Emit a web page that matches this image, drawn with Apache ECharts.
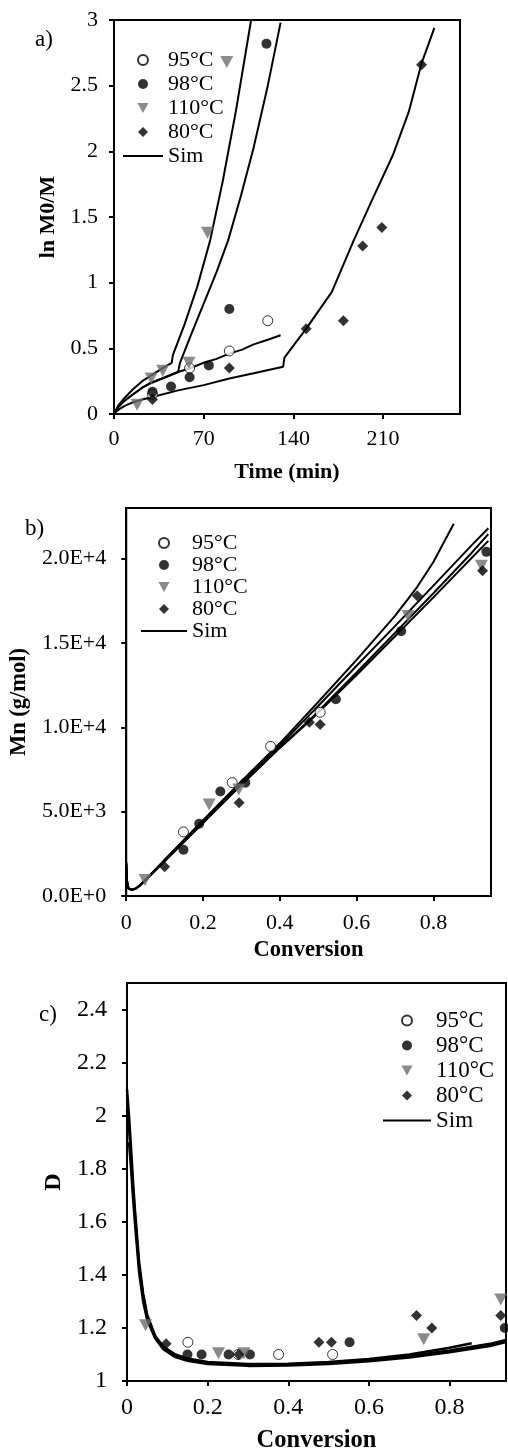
<!DOCTYPE html>
<html><head><meta charset="utf-8">
<script src="https://cdn.jsdelivr.net/npm/echarts@6/dist/echarts.min.js"></script>
<style>html,body{margin:0;padding:0;background:#fff}#c{width:508px;height:1454px}</style>
</head><body><div id="c"></div>
<script>
const FONT = "'Liberation Serif','Times New Roman',serif";
const NAMES = ['95°C','98°C','110°C','80°C','Sim'];

// ---------- panel a: ln M0/M vs time ----------
const aTicksX = [0,70,140,210];
const aTicksY = [0,0.5,1,1.5,2,2.5,3];
const a95  = [[30,0.15],[59,0.35],[90,0.48],[120,0.71]];
const a98  = [[30,0.17],[44.5,0.21],[59,0.28],[74,0.37],[90,0.80],[119,2.82]];
const a110 = [[18,0.07],[29,0.27],[38,0.33],[58.5,0.39],[73,1.38],[88,2.68]];
const a80  = [[30,0.11],[90,0.35],[150,0.65],[179,0.71],[194,1.28],[209,1.42],[240,2.66]];
const aSim110 = [[0,0],[3,0.06],[8,0.12],[15,0.19],[22,0.25],[30,0.30],[38,0.35],[45,0.39],[46,0.45],[55,0.68],[65,0.97],[75,1.32],[85,1.78],[95,2.30],[107,3.0]];
const aSim98  = [[0,0],[3,0.05],[8,0.1],[15,0.15],[22,0.2],[30,0.24],[40,0.28],[50,0.32],[51.5,0.39],[60,0.6],[70,0.84],[80,1.08],[89,1.32],[99,1.66],[109,2.03],[120,2.5],[130,2.98]];
const aSim95  = [[0,0],[3,0.05],[8,0.1],[15,0.15],[22,0.2],[28,0.235],[40,0.28],[50,0.32],[60,0.35],[70,0.39],[80,0.42],[90,0.46],[100,0.49],[109,0.53],[120,0.565],[130,0.60]];
const aSim80  = [[0,0],[3,0.03],[8,0.06],[15,0.09],[22,0.11],[30,0.13],[50,0.18],[70,0.22],[90,0.27],[109,0.31],[132,0.36],[133,0.43],[150,0.65],[170,0.93],[187,1.32],[200,1.6],[218,1.98],[230,2.3],[240,2.67],[250,2.94]];

// ---------- panel b: Mn vs conversion ----------
const bTicksX = [0,0.2,0.4,0.6,0.8];
const bTicksY = [0,5000,10000,15000,20000];
const b95  = [[0.149,3800],[0.276,6720],[0.376,8870],[0.505,10890]];
const b98  = [[0.149,2740],[0.19,4280],[0.245,6190],[0.31,6720],[0.546,11660],[0.716,15700],[0.938,20400]];
const b110 = [[0.049,950],[0.216,5420],[0.293,6310],[0.734,16600],[0.925,19580]];
const b80  = [[0.10,1730],[0.294,5530],[0.477,10300],[0.505,10170],[0.758,17800],[0.928,19280]];
const bSimA = [[0,2000],[0.002,900],[0.006,450],[0.015,380],[0.025,450],[0.035,620],[0.05,950],[0.1,2150],[0.2,4500],[0.3,6800],[0.4,9050],[0.458,10470],[0.5,11500],[0.6,14000],[0.7,16600],[0.758,18330],[0.8,19800],[0.853,22070]];
const bSimB = [[0,2000],[0.002,900],[0.006,450],[0.015,380],[0.025,450],[0.035,620],[0.05,950],[0.1,2100],[0.2,4400],[0.3,6650],[0.4,8920],[0.466,10470],[0.5,11260],[0.6,13650],[0.7,16000],[0.8,18400],[0.9,20800],[0.943,21800]];
const bSimC = [[0,1900],[0.002,850],[0.006,430],[0.015,370],[0.025,440],[0.035,610],[0.05,940],[0.1,2080],[0.2,4350],[0.3,6600],[0.4,8800],[0.479,10470],[0.6,13250],[0.7,15600],[0.8,17950],[0.9,20350],[0.943,21450]];
const bSimD = [[0,1800],[0.002,800],[0.006,420],[0.015,360],[0.025,430],[0.035,600],[0.05,930],[0.1,2060],[0.2,4330],[0.3,6600],[0.4,8780],[0.479,10400],[0.6,13100],[0.7,15400],[0.8,17700],[0.9,20050],[0.943,21050]];

// ---------- panel c: D vs conversion ----------
const cTicksX = [0,0.2,0.4,0.6,0.8];
const cTicksY = [1,1.2,1.4,1.6,1.8,2,2.2,2.4];
const c95  = [[0.151,1.146],[0.276,1.10],[0.376,1.10],[0.51,1.10]];
const c98  = [[0.15,1.10],[0.185,1.10],[0.252,1.10],[0.305,1.10],[0.552,1.146],[0.937,1.20]];
const c110 = [[0.046,1.21],[0.227,1.105],[0.29,1.105],[0.736,1.157],[0.927,1.307]];
const c80  = [[0.097,1.14],[0.277,1.10],[0.476,1.146],[0.507,1.146],[0.718,1.247],[0.756,1.20],[0.927,1.247]];
const cSimA = [[0,2.10],[0.005,2.0],[0.01,1.88],[0.015,1.75],[0.02,1.64],[0.03,1.45],[0.04,1.33],[0.05,1.25],[0.07,1.17],[0.09,1.13],[0.12,1.10],[0.15,1.085],[0.2,1.072],[0.3,1.064],[0.4,1.065],[0.5,1.072],[0.6,1.083],[0.7,1.10],[0.8,1.125],[0.855,1.142]];
const cSimB = [[0,2.02],[0.005,1.95],[0.01,1.84],[0.015,1.72],[0.02,1.62],[0.03,1.43],[0.04,1.32],[0.05,1.24],[0.07,1.165],[0.09,1.125],[0.12,1.095],[0.15,1.08],[0.2,1.068],[0.3,1.06],[0.4,1.062],[0.5,1.068],[0.6,1.078],[0.7,1.094],[0.8,1.115],[0.9,1.14],[0.94,1.155]];
const cSimC = [[0.005,1.9],[0.01,1.80],[0.015,1.69],[0.02,1.59],[0.03,1.41],[0.04,1.30],[0.05,1.23],[0.07,1.16],[0.09,1.12],[0.12,1.09],[0.15,1.076],[0.2,1.064],[0.3,1.057],[0.4,1.058],[0.5,1.064],[0.6,1.074],[0.7,1.089],[0.8,1.108],[0.9,1.132],[0.94,1.147]];

// ---------- build ----------
const TRI = 'path://M0,0L10,0L5,9Z';
const DIA = 'path://M5,0L10,5L5,10L0,5Z';
const styles = {
  '95°C':  {symbol:'circle', symbolSize:10, itemStyle:{color:'#fff', borderColor:'#000', borderWidth:1}},
  '98°C':  {symbol:'circle', symbolSize:10, itemStyle:{color:'#000'}},
  '110°C': {symbol:TRI, symbolSize:[13,12], symbolKeepAspect:false, itemStyle:{color:'#6e6e6e'}},
  '80°C':  {symbol:DIA, symbolSize:11, itemStyle:{color:'#000'}}
};
function scat(name, data, i) {
  return Object.assign({type:'scatter', name, data, xAxisIndex:i, yAxisIndex:i, z:3, silent:true}, styles[name]);
}
function sim(data, i, w) {
  return {type:'line', name:'Sim', data, xAxisIndex:i, yAxisIndex:i, symbol:'none', showSymbol:false, z:2, silent:true,
          itemStyle:{color:'#000', opacity:0}, lineStyle:{color:'#000', width:w||2}};
}
const axLine = {show:true, onZero:false, lineStyle:{color:'#000', width:2}};
function xAx(i, min, max, ticks, name, gap, fs, ns, margin) {
  return {gridIndex:i, type:'value', min, max, axisLine:axLine,
    axisTick:{show:true, inside:false, length:5, lineStyle:{color:'#000', width:2}, customValues:ticks},
    axisLabel:{customValues:ticks, fontFamily:FONT, fontSize:fs, color:'#000', margin},
    splitLine:{show:false}, name, nameLocation:'middle', nameGap:gap,
    nameTextStyle:{fontFamily:FONT, fontSize:ns, fontWeight:'bold', color:'#000'}};
}
function yAx(i, min, max, ticks, name, gap, fs, ns, margin, fmt) {
  const lab = {customValues:ticks, fontFamily:FONT, fontSize:fs, color:'#000', margin};
  if (fmt) lab.formatter = fmt;
  return {gridIndex:i, type:'value', min, max, axisLine:axLine,
    axisTick:{show:true, inside:false, length:5, lineStyle:{color:'#000', width:2}, customValues:ticks},
    axisLabel:lab, splitLine:{show:false}, name, nameLocation:'middle', nameGap:gap,
    nameTextStyle:{fontFamily:FONT, fontSize:ns, fontWeight:'bold', color:'#000'}};
}
function leg(left, top, w, gap, fs, lh) {
  return {left, top, orient:'vertical', itemWidth:w, itemHeight:10, itemGap:gap, padding:0, selectedMode:false,
    textStyle:{fontFamily:FONT, fontSize:fs, color:'#000', lineHeight:lh},
    data:['95°C','98°C','110°C','80°C',{name:'Sim', itemStyle:{opacity:0}}]};
}
const gridStyle = {show:true, borderColor:'#000', borderWidth:2, backgroundColor:'transparent'};
const option = {
  animation:false,
  backgroundColor:'#fff',
  title:[
    {text:'a)', left:30, top:23, textStyle:{fontFamily:FONT, fontSize:23, fontWeight:'normal', color:'#000'}},
    {text:'b)', left:20, top:512, textStyle:{fontFamily:FONT, fontSize:23, fontWeight:'normal', color:'#000'}},
    {text:'c)', left:34, top:998, textStyle:{fontFamily:FONT, fontSize:23, fontWeight:'normal', color:'#000'}}
  ],
  grid:[
    Object.assign({left:114, top:20, width:346, height:394}, gridStyle),
    Object.assign({left:123, top:508, width:368, height:388}, gridStyle),
    Object.assign({left:127, top:983, width:379, height:402}, gridStyle)
  ],
  xAxis:[
    xAx(0, 0, 270, aTicksX, 'Time (min)', 47, 22, 22, 14),
    xAx(1, 0, 0.95, bTicksX, 'Conversion', 43, 22, 22.5, 16),
    xAx(2, 0, 0.94, cTicksX, 'Conversion', 47, 24, 24.5, 15)
  ],
  yAxis:[
    yAx(0, 0, 3, aTicksY, 'ln M0/M', 49, 22, 22, 16),
    yAx(1, 0, 23000, bTicksY, 'Mn (g/mol)', 86, 22, 22.5, 20, v => v.toExponential(1).toUpperCase()),
    yAx(2, 1, 2.5, cTicksY, 'D', 49, 24, 24, 20)
  ],
  legend:[ leg(122, 49, 40, 2, 22, 21), leg(140, 532, 46, 0, 22, 21), leg(382, 1009, 48, 2, 23, 22) ],
  series:[
    sim(aSim110,0), sim(aSim98,0), sim(aSim95,0), sim(aSim80,0),
    scat('95°C',a95,0), scat('98°C',a98,0), scat('110°C',a110,0), scat('80°C',a80,0),
    sim(bSimA,1), sim(bSimB,1), sim(bSimC,1), sim(bSimD,1),
    scat('95°C',b95,1), scat('98°C',b98,1), scat('110°C',b110,1), scat('80°C',b80,1),
    sim(cSimA,2,2.5), sim(cSimB,2,2.5), sim(cSimC,2,2.5),
    scat('95°C',c95,2), scat('98°C',c98,2), scat('110°C',c110,2), scat('80°C',c80,2)
  ]
};
echarts.init(document.getElementById('c'), null, {renderer:'canvas'}).setOption(option);
</script></body></html>
